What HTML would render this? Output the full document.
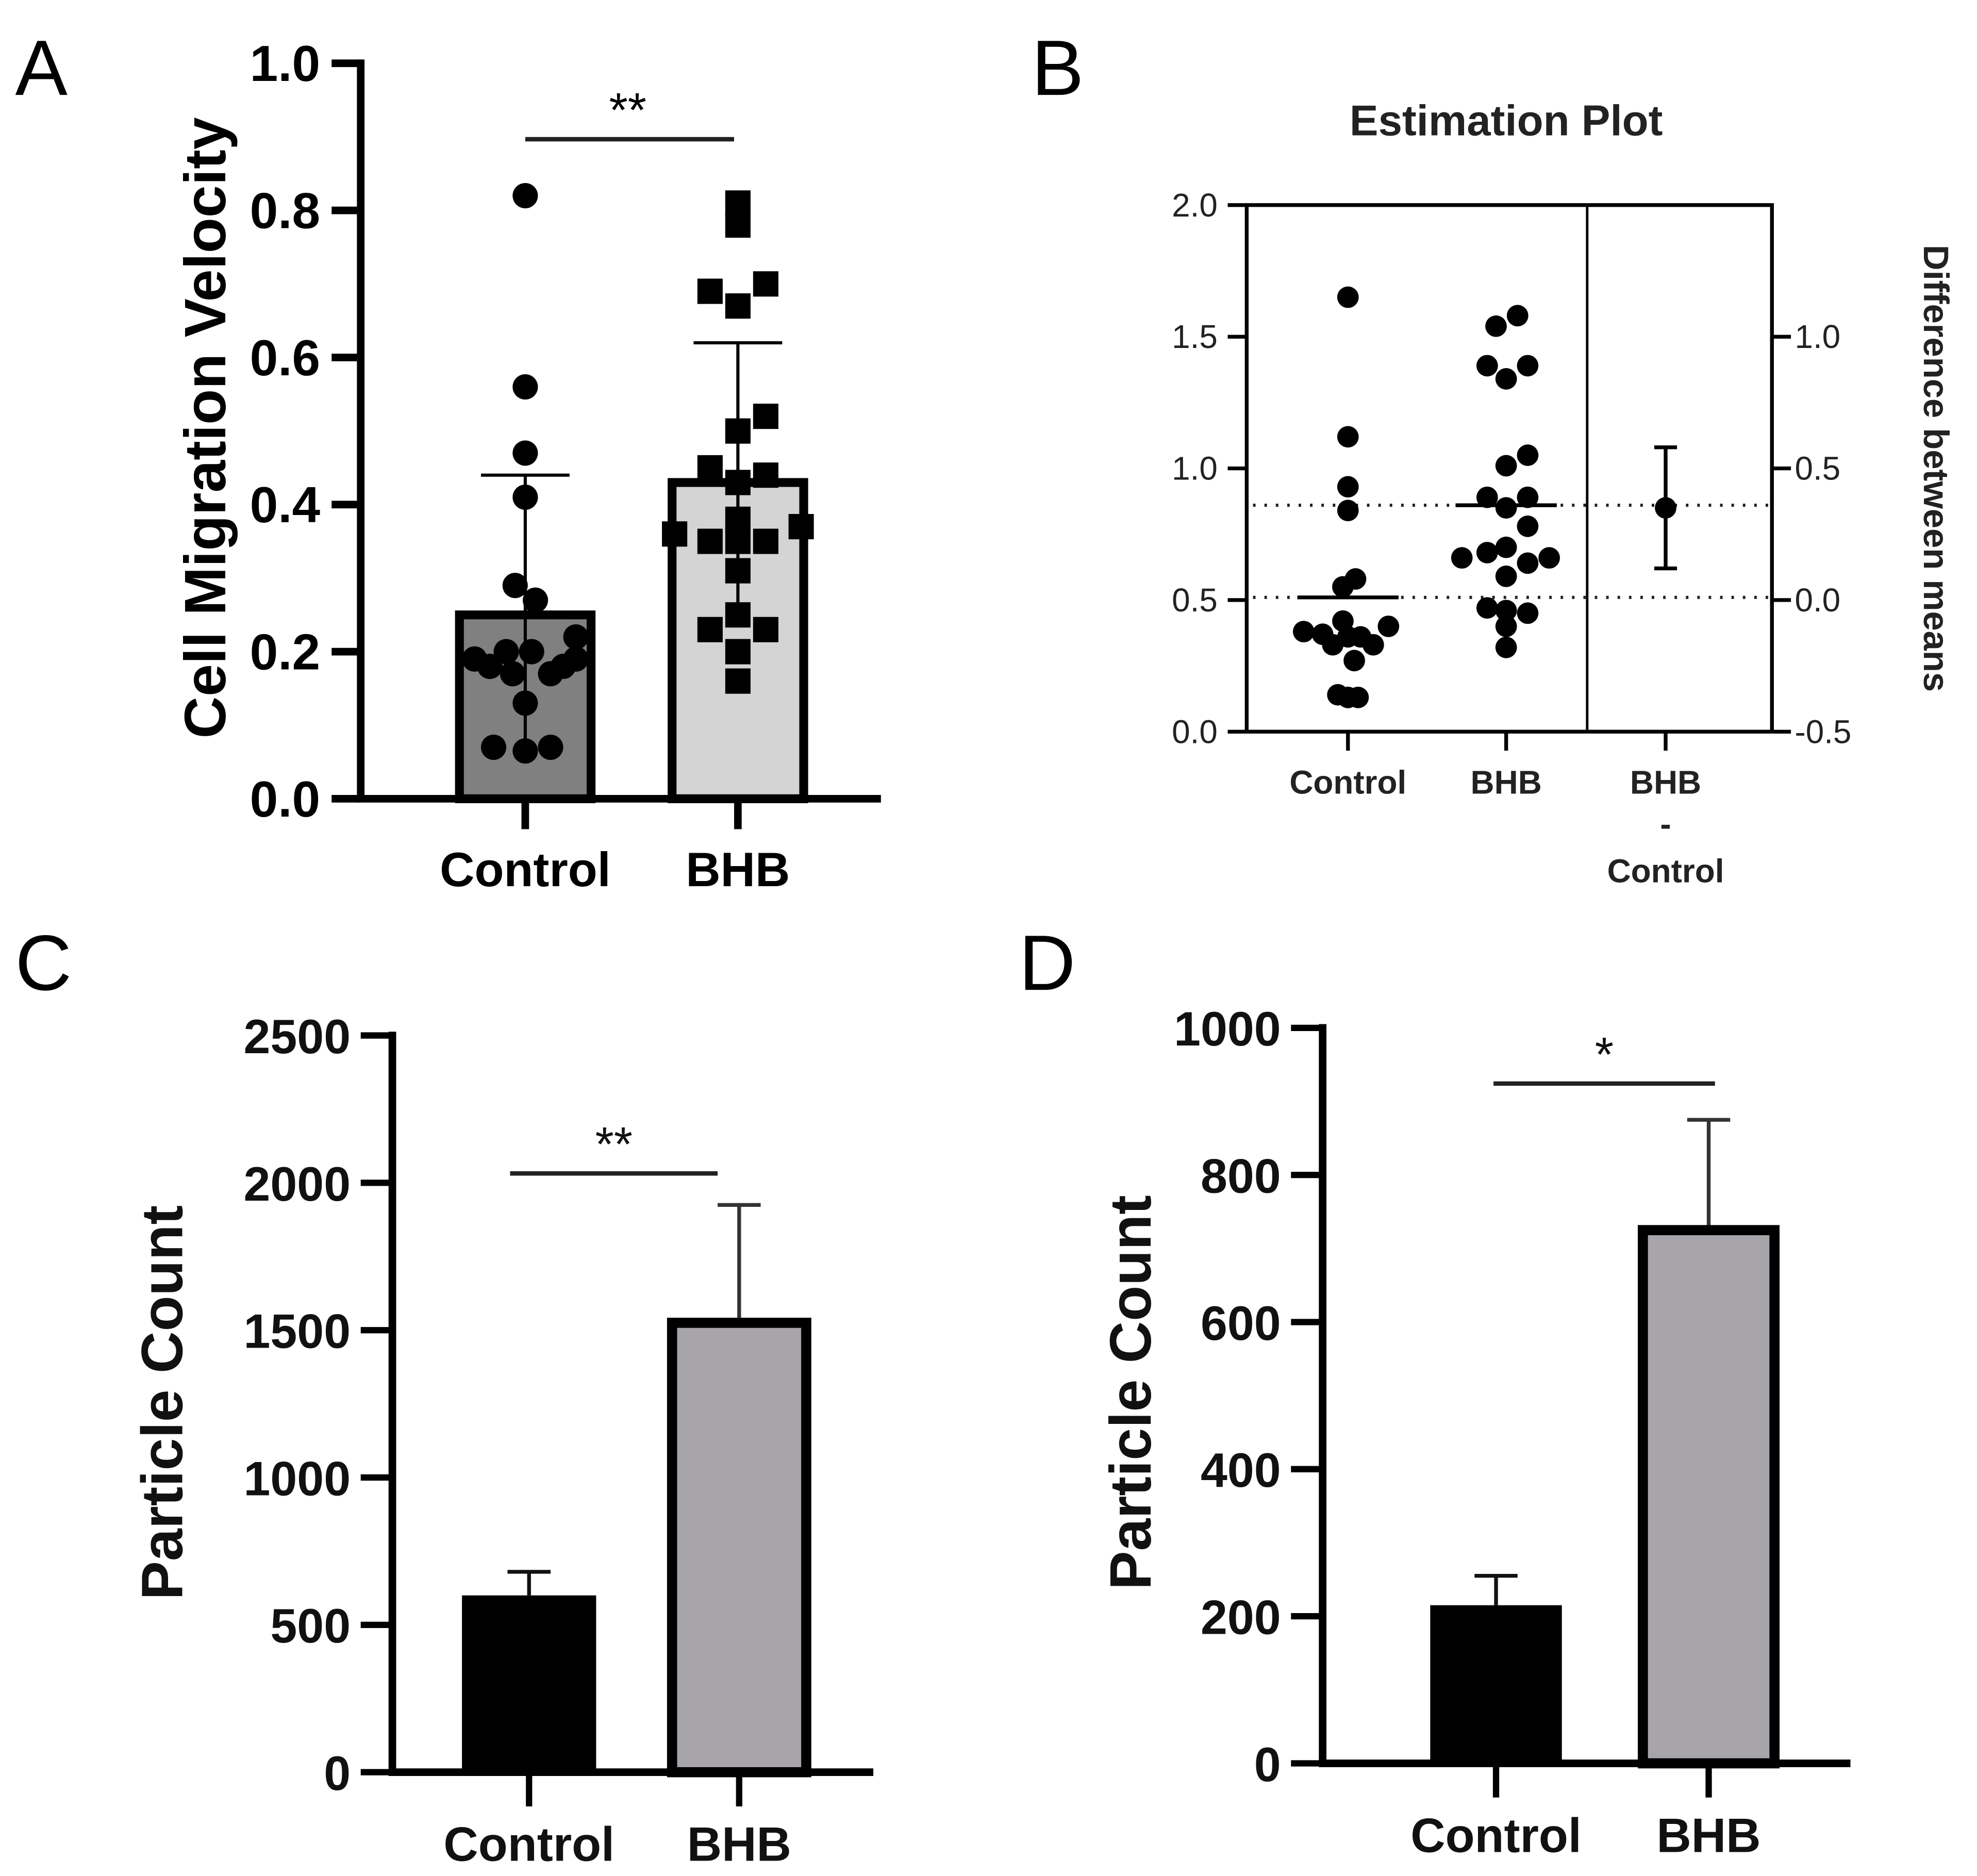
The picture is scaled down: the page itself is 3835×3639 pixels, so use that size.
<!DOCTYPE html>
<html><head><meta charset="utf-8">
<style>
html,body{margin:0;padding:0;background:#fff;}
svg{display:block;}
text{font-family:"Liberation Sans",sans-serif;}
</style></head>
<body>
<svg id="fig" width="3835" height="3639" viewBox="0 0 1562 1482" preserveAspectRatio="none" xmlns="http://www.w3.org/2000/svg">
<rect x="0" y="0" width="1562" height="1482" fill="#fff"/>
<text x="12" y="75" font-size="62">A</text>
<text x="815" y="75" font-size="62">B</text>
<text x="12" y="782" font-size="62">C</text>
<text x="805" y="782" font-size="62">D</text>
<g id="gA"></g>
<g id="gB"></g>
<g id="gC"></g>
<g id="gD"></g>
</svg>
<script>
// Panel A data
const aCategories = ["Control", "BHB"];
const aMeans = [0.25, 0.43];
const aSD = [0.19, 0.19];
const aTicks = [0.0, 0.2, 0.4, 0.6, 0.8, 1.0];
const aControlVals = [0.82,0.56,0.47,0.41,0.29,0.27,0.22,0.20,0.20,0.19,0.19,0.18,0.17,0.17,0.13,0.07,0.065,0.07,0.18];
const aControlJit = [0,0,0,0,-8,8,40,-15,5,40,-40,-28,-10,20,0,-25,0,20,30];
const aBhbVals = [0.81,0.78,0.69,0.67,0.70,0.52,0.50,0.45,0.44,0.43,0.38,0.36,0.37,0.35,0.35,0.35,0.31,0.25,0.23,0.23,0.20,0.16];
const aBhbJit = [0,0,-22,0,22,22,0,-22,22,0,0,-50,50,-22,0,22,0,0,-22,22,0,0];
// Panel B data
const bCategories = ["Control", "BHB"];
const bTicks = [0.0, 0.5, 1.0, 1.5, 2.0];
const bRightTicks = [-0.5, 0.0, 0.5, 1.0];
const bControlVals = [1.65,1.12,0.93,0.84,0.58,0.55,0.42,0.38,0.40,0.37,0.36,0.33,0.33,0.36,0.27,0.14,0.13,0.13];
const bControlJit = [0,0,0,0,6,-4,-4,-35,32,-20,0,-12,20,10,5,-8,0,8];
const bBhbVals = [1.58,1.54,1.39,1.39,1.34,1.05,1.01,0.89,0.89,0.85,0.78,0.68,0.70,0.66,0.66,0.64,0.59,0.47,0.46,0.45,0.40,0.32];
const bBhbJit = [9,-8,-15,17,0,17,0,-15,17,0,17,-15,0,-35,34,17,0,-15,0,17,0,0];
const bMeans = [0.51, 0.86];
const bDiff = [0.35];
const bDiffCI = [0.12, 0.58];
// Panel C data
const cCategories = ["Control", "BHB"];
const cMeans = [600, 1525];
const cErr = [80, 400];
const cTicks = [0, 500, 1000, 1500, 2000, 2500];
// Panel D data
const dCategories = ["Control", "BHB"];
const dMeans = [215, 725];
const dErr = [40, 150];
const dTicks = [0, 200, 400, 600, 800, 1000];

const NS = "http://www.w3.org/2000/svg";
function mk(parent, tag, attrs, txt){
  const e = document.createElementNS(NS, tag);
  for (const k in attrs) e.setAttribute(k, attrs[k]);
  if (txt !== undefined) e.textContent = txt;
  parent.appendChild(e);
  return e;
}
function lin(d0,d1,r0,r1){return v=>r0+(v-d0)*(r1-r0)/(d1-d0);}

// ---------- Panel A ----------
(function(){
  const g = document.getElementById('gA');
  const y = lin(0,1,631,50);
  const xc = [415, 583];
  const colors = ["#808080", "#d4d4d4"];
  aCategories.forEach((c,i)=>{
    const b = mk(g,'rect',{x:xc[i]-52,y:y(aMeans[i]),width:104,height:y(0)-y(aMeans[i]),fill:colors[i],stroke:"#000","stroke-width":7});
    
    
    const e = mk(g,'path',{d:`M${xc[i]} ${y(aMeans[i]+aSD[i])}V${y(Math.max(0.065,aMeans[i]-aSD[i]))}M${xc[i]-35} ${y(aMeans[i]+aSD[i])}h70`,stroke:"#000","stroke-width":2.5,fill:"none"});
    
    
  });
  aControlVals.forEach((v,i)=>{
    const p = mk(g,'circle',{cx:xc[0]+aControlJit[i],cy:y(v),r:10,fill:"#000"});
    
    
  });
  aBhbVals.forEach((v,i)=>{
    const p = mk(g,'rect',{x:xc[1]+aBhbJit[i]-10,y:y(v)-10,width:20,height:20,fill:"#000"});
    
    
  });
  mk(g,'path',{d:"M285 47V634M282 631H696",stroke:"#000","stroke-width":6,fill:"none"});
  aTicks.forEach(t=>{
    mk(g,'line',{x1:262,x2:285,y1:y(t),y2:y(t),stroke:"#000","stroke-width":6});
    const tl = mk(g,'text',{x:253,y:y(t)+14,"font-size":40,"font-weight":"bold","text-anchor":"end"},t.toFixed(1));
    
    
  });
  aCategories.forEach((c,i)=>{
    mk(g,'line',{x1:xc[i],x2:xc[i],y1:631,y2:655,stroke:"#000","stroke-width":6});
    const l = mk(g,'text',{x:xc[i],y:700,"font-size":38,"font-weight":"bold","text-anchor":"middle"},c);
    
    
  });
  const yt = mk(g,'text',{x:0,y:0,"font-size":46,"font-weight":"bold","text-anchor":"middle",transform:"translate(178,338) rotate(-90)"},"Cell Migration Velocity");
  
  
  mk(g,'line',{x1:415,x2:580,y1:110,y2:110,stroke:"#222","stroke-width":3.5});
  const s = mk(g,'text',{x:496,y:100,"font-size":38,"text-anchor":"middle"},"**");
  
  
})();

// ---------- Panel B ----------
(function(){
  const g = document.getElementById('gB');
  const y = lin(0,2,578,162);
  const yr = lin(0,1,474,266);
  const xc = [1065, 1190, 1316];
  const t = mk(g,'text',{x:1190,y:107,"font-size":34,"font-weight":"bold","text-anchor":"middle",fill:"#222"},"Estimation Plot");
  
  
  mk(g,'rect',{x:985,y:162,width:415,height:416,fill:"none",stroke:"#000","stroke-width":3});
  mk(g,'line',{x1:1254,x2:1254,y1:162,y2:578,stroke:"#000","stroke-width":2});
  bTicks.forEach(v=>{
    mk(g,'line',{x1:970,x2:985,y1:y(v),y2:y(v),stroke:"#000","stroke-width":3});
    const l = mk(g,'text',{x:962,y:y(v)+9,"font-size":26,"text-anchor":"end",fill:"#222"},v.toFixed(1));
    
    
  });
  bRightTicks.forEach(v=>{
    mk(g,'line',{x1:1400,x2:1415,y1:yr(v),y2:yr(v),stroke:"#000","stroke-width":3});
    const l = mk(g,'text',{x:1418,y:yr(v)+9,"font-size":26,fill:"#222"},v.toFixed(1));
    
    
  });
  bMeans.forEach(m=>{
    mk(g,'line',{x1:990,x2:1398,y1:y(m),y2:y(m),stroke:"#222","stroke-width":2.5,"stroke-dasharray":"2 7"});
  });
  bControlVals.forEach((v,i)=>{
    const p = mk(g,'circle',{cx:xc[0]+bControlJit[i],cy:y(v),r:8.5,fill:"#000"});
    
    
  });
  bBhbVals.forEach((v,i)=>{
    const p = mk(g,'circle',{cx:xc[1]+bBhbJit[i],cy:y(v),r:8.5,fill:"#000"});
    
    
  });
  bMeans.forEach((m,i)=>{
    mk(g,'line',{x1:xc[i]-40,x2:xc[i]+40,y1:y(m),y2:y(m),stroke:"#000","stroke-width":3});
  });
  const ci = mk(g,'path',{d:`M${xc[2]} ${yr(bDiffCI[0])}V${yr(bDiffCI[1])}M${xc[2]-9} ${yr(bDiffCI[0])}h18M${xc[2]-9} ${yr(bDiffCI[1])}h18`,stroke:"#000","stroke-width":3,fill:"none"});
  
  
  const dp = mk(g,'circle',{cx:xc[2],cy:yr(bDiff[0]),r:8.5,fill:"#000"});
  
  
  xc.forEach(x=>mk(g,'line',{x1:x,x2:x,y1:578,y2:593,stroke:"#000","stroke-width":3}));
  bCategories.forEach((c,i)=>{
    const l = mk(g,'text',{x:xc[i],y:627,"font-size":26,"font-weight":"bold","text-anchor":"middle",fill:"#222"},c);
    
    
  });
  const l1 = mk(g,'text',{x:1316,y:627,"font-size":26,"font-weight":"bold","text-anchor":"middle",fill:"#222"},"BHB");
  
  
  mk(g,'text',{x:1316,y:660,"font-size":26,"font-weight":"bold","text-anchor":"middle",fill:"#222"},"-");
  mk(g,'text',{x:1316,y:697,"font-size":26,"font-weight":"bold","text-anchor":"middle",fill:"#222"},"Control");
  const rt = mk(g,'text',{x:0,y:0,"font-size":28,"font-weight":"bold","text-anchor":"middle",fill:"#222",transform:"translate(1520,370) rotate(90)"},"Difference between means");
  
  
})();

// ---------- Panels C & D ----------
function barPanel(id, cats, means, errs, ticks, cfg){
  const g = document.getElementById(id);
  const y = lin(0, ticks[ticks.length-1], cfg.y0, cfg.yTop);
  const colors = ["#000", "#a8a5aa"];
  cats.forEach((c,i)=>{
    const xc = cfg.xc[i];
    const e = mk(g,'path',{d:`M${xc} ${y(means[i])}V${y(means[i]+errs[i])}M${xc-17} ${y(means[i]+errs[i])}h34`,stroke:i?"#333":"#111","stroke-width":3,fill:"none"});
    
    
    const b = mk(g,'rect',{x:xc-cfg.bw/2,y:y(means[i]),width:cfg.bw,height:y(0)-y(means[i]),fill:colors[i],stroke:"#000","stroke-width":i?8:0});
    
    
    mk(g,'line',{x1:xc,x2:xc,y1:y(0),y2:y(0)+27,stroke:"#000","stroke-width":5});
    const l = mk(g,'text',{x:xc,y:cfg.y0+70,"font-size":38,"font-weight":"bold","text-anchor":"middle",fill:"#111"},c);
    
    
  });
  mk(g,'path',{d:`M${cfg.ax} ${cfg.yTop-3}V${cfg.y0+3}M${cfg.ax-3} ${cfg.y0}H${cfg.xEnd}`,stroke:"#000","stroke-width":6,fill:"none"});
  ticks.forEach(t=>{
    mk(g,'line',{x1:cfg.ax-25,x2:cfg.ax,y1:y(t),y2:y(t),stroke:"#000","stroke-width":5});
    const l = mk(g,'text',{x:cfg.ax-33,y:y(t)+14,"font-size":38,"font-weight":"bold","text-anchor":"end",fill:"#111"},String(t));
    
    
  });
  const yt = mk(g,'text',{x:0,y:0,"font-size":46,"font-weight":"bold","text-anchor":"middle",fill:"#111",transform:`translate(${cfg.titleX},${cfg.titleY}) rotate(-90)`},"Particle Count");
  
  
  mk(g,'line',{x1:cfg.sig[0],x2:cfg.sig[1],y1:cfg.sig[2],y2:cfg.sig[2],stroke:"#222","stroke-width":3.5});
  const s = mk(g,'text',{x:(cfg.sig[0]+cfg.sig[1])/2,y:cfg.sig[2]-10,"font-size":38,"text-anchor":"middle",fill:"#111"},cfg.stars);
  
  
}
barPanel('gC', cCategories, cMeans, cErr, cTicks, {y0:1400,yTop:818,xc:[418,584],bw:106,ax:310,xEnd:690,titleX:144,titleY:1108,sig:[403,567,927],stars:"**"});
barPanel('gD', dCategories, dMeans, dErr, dTicks, {y0:1393,yTop:812,xc:[1182,1350],bw:104,ax:1045,xEnd:1462,titleX:909,titleY:1100,sig:[1180,1355,856],stars:"*"});
</script>
</body></html>
